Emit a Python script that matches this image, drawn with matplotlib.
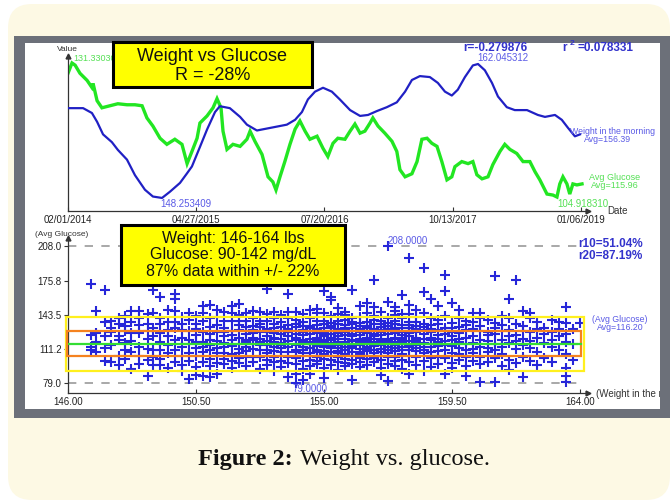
import numpy as np
import matplotlib
matplotlib.use("Agg")
import matplotlib.pyplot as plt
import matplotlib.dates as mdates
from matplotlib.patches import FancyBboxPatch, Rectangle

plt.rcParams['font.family'] = ['Liberation Sans', 'DejaVu Sans']

# ---------------- time series ----------------
start_date = np.datetime64('2014-02-01')
date_ticks = ['2014-02-01', '2015-04-27', '2016-07-20', '2017-10-13', '2019-01-06']

weight_days = [0, 53, 84, 102, 123, 154, 175, 207,
               235, 270, 298, 330, 358, 393, 418, 435,
               463, 488, 516, 533, 568, 604, 628, 663,
               698, 733, 768, 797, 821, 842, 867, 895,
               926, 954, 990, 1025, 1053, 1084, 1119, 1154,
               1183, 1207, 1235, 1270, 1298, 1323, 1347, 1368,
               1393, 1421, 1439, 1463, 1488, 1509, 1540, 1568,
               1611, 1649, 1674, 1709, 1733, 1754, 1779, 1797]
weight_lbs = [157.5, 157.5, 157.0, 156.1, 154.8, 154.0, 153.2, 152.2,
              150.6, 149.1, 148.4, 148.253409, 148.9, 149.8, 150.8, 151.5,
              153.5, 155.3, 157.1, 157.7, 157.5, 156.6, 155.8, 155.2,
              155.4, 155.6, 155.8, 156.3, 157.1, 158.4, 159.2, 159.6,
              159.2, 158.4, 157.3, 156.7, 156.8, 157.2, 157.6, 158.1,
              159.2, 160.4, 160.8, 160.7, 160.1, 159.2, 158.8, 159.4,
              160.7, 161.9, 162.045312, 161.4, 160.1, 158.7, 157.6, 157.3,
              157.3, 156.8, 156.6, 156.8, 156.3, 155.5, 154.6, 154.8]

glucose_days = [0, 14, 25, 42, 67, 84, 88, 102,
                119, 147, 175, 207, 235, 260, 277, 298,
                323, 347, 375, 400, 418, 435, 453, 463,
                488, 509, 523, 537, 544, 558, 579, 604,
                628, 639, 656, 681, 702, 719, 730, 744,
                761, 779, 797, 814, 832, 849, 874, 895,
                912, 930, 947, 972, 990, 1007, 1025, 1042,
                1060, 1070, 1088, 1112, 1137, 1154, 1165, 1183,
                1207, 1225, 1242, 1260, 1277, 1295, 1312, 1330,
                1347, 1358, 1382, 1404, 1421, 1435, 1453, 1474,
                1491, 1516, 1533, 1551, 1575, 1597, 1621, 1639,
                1656, 1681, 1702, 1716, 1726, 1737, 1751, 1761,
                1772, 1786, 1804]
glucose_avg = [129.3, 131.3303, 130.9, 129.3, 127.9, 126.5, 127.3, 123.9,
               122.5, 122.9, 123.3, 123.1, 123.1, 122.9, 120.5, 118.9,
               116.5, 115.3, 116.3, 115.3, 111.5, 113.9, 116.5, 119.5,
               120.9, 122.5, 124.3, 122.5, 117.9, 114.3, 115.3, 114.9,
               116.3, 117.9, 115.9, 113.3, 108.9, 107.9, 106.3, 108.9,
               111.9, 115.3, 118.3, 119.9, 117.9, 116.3, 116.9, 114.5,
               112.9, 115.5, 116.5, 116.3, 117.9, 119.3, 117.5, 117.9,
               119.5, 120.5, 118.9, 117.5, 115.9, 113.9, 110.3, 108.9,
               109.5, 111.9, 116.3, 116.5, 115.5, 114.9, 111.9, 108.3,
               108.9, 110.9, 111.9, 111.5, 111.9, 109.3, 108.5, 108.9,
               111.3, 113.9, 115.3, 114.3, 113.5, 111.9, 111.9, 109.9,
               108.3, 105.5, 105.3, 104.918310, 107.5, 108.9, 107.5, 105.5,
               107.5, 107.3, 107.5]

weight_mean = 156.39
glucose_mean = 115.96
r_value = -0.279876
r_squared = 0.078331

# ---------------- scatter: weight vs glucose ----------------
col_weights = [146.8, 147.0, 147.3, 147.5, 147.8, 148.0, 148.2, 148.5, 148.8,
               149.0, 149.25, 149.5, 149.75, 150.0, 150.25, 150.5, 150.75,
               151.0, 151.25, 151.5, 151.75, 152.0, 152.25, 152.5, 152.75,
               153.0, 153.25, 153.5, 153.75, 154.0, 154.25, 154.5, 154.75,
               155.0, 155.25, 155.5, 155.75, 156.0, 156.25, 156.5, 156.75,
               157.0, 157.25, 157.5, 157.75, 158.0, 158.25, 158.5, 158.75,
               159.0, 159.25, 159.5, 159.75, 160.0, 160.25, 160.5, 160.75,
               161.0, 161.25, 161.5, 161.75, 162.0, 162.25, 162.5, 162.75,
               163.0, 163.25, 163.5, 163.75, 164.0]
col_glucose = [
    [173, 113, 110, 124],
    [147, 126, 108, 118],
    [167, 123, 137, 100, 112],
    [138, 127, 99, 115, 131],
    [123, 135, 96, 105, 120, 140],
    [128, 110, 117, 102, 133, 142],
    [147, 119, 92, 108, 126, 137],
    [147, 126, 105, 134, 113, 97, 140],
    [135, 86, 101, 121, 144, 111, 128],
    [167, 123, 145, 110, 96, 131, 104],
    [160, 135, 96, 110, 118, 140, 126, 102],
    [148, 107, 123, 115, 137, 93, 129],
    [163, 158, 137, 110, 147, 120, 99, 131],
    [129, 96, 113, 141, 105, 122, 135, 90],
    [120, 107, 83, 139, 128, 100, 116, 145],
    [135, 105, 94, 87, 124, 112, 142, 118, 130],
    [152, 138, 86, 99, 118, 127, 108, 145, 113],
    [153, 120, 110, 85, 132, 102, 125, 140, 95, 115],
    [148, 134, 127, 107, 98, 119, 141, 112, 88],
    [146, 127, 107, 138, 97, 117, 123, 131, 102, 113],
    [138, 152, 120, 106, 93, 128, 114, 145, 100, 124],
    [154, 107, 129, 116, 98, 138, 111, 122, 134, 143, 103],
    [138, 95, 120, 104, 128, 113, 145, 125, 132, 109, 118],
    [120, 104, 147, 133, 111, 99, 126, 140, 116, 122, 129],
    [146, 132, 110, 92, 121, 127, 115, 104, 138, 118, 135],
    [168, 138, 110, 123, 101, 130, 144, 115, 107, 127, 119, 96],
    [122, 90, 104, 131, 140, 113, 118, 126, 109, 135, 99, 146, 121],
    [132, 94, 112, 125, 105, 137, 117, 143, 100, 128, 121, 108, 115],
    [163, 85, 119, 146, 108, 127, 134, 113, 98, 140, 123, 104, 130, 116],
    [79, 146, 120, 88, 132, 110, 125, 103, 139, 115, 128, 97, 122, 108, 135],
    [137, 82, 107, 118, 129, 113, 144, 100, 124, 110, 133, 92, 120, 116, 127],
    [148, 88, 125, 107, 116, 133, 101, 140, 121, 112, 128, 95, 118, 131, 105],
    [149, 97, 126, 110, 138, 118, 104, 130, 114, 122, 145, 100, 134, 108, 120, 127],
    [166, 84, 135, 115, 102, 125, 145, 109, 120, 131, 93, 113, 127, 106, 138, 118, 123],
    [160, 157, 120, 105, 131, 142, 112, 96, 125, 117, 136, 108, 128, 101, 122, 114, 133],
    [150, 128, 91, 118, 135, 109, 123, 144, 104, 115, 130, 99, 121, 112, 138, 126, 107],
    [146, 124, 98, 113, 131, 106, 139, 118, 127, 102, 121, 134, 110, 116, 143, 129, 95],
    [167, 82, 140, 119, 105, 128, 112, 135, 97, 123, 116, 131, 108, 125, 101, 137, 120, 114],
    [152, 133, 108, 121, 94, 127, 115, 141, 103, 118, 130, 111, 124, 99, 136, 120, 106],
    [155, 118, 137, 102, 126, 113, 145, 109, 122, 131, 96, 116, 128, 105, 133, 120, 111],
    [151, 176, 130, 107, 121, 142, 114, 99, 125, 135, 110, 118, 128, 103, 139, 123, 116],
    [87, 146, 124, 111, 132, 101, 119, 138, 108, 127, 115, 93, 129, 121, 135, 105, 117],
    [208, 156, 81, 128, 113, 140, 104, 121, 133, 117, 97, 125, 110, 136, 119, 130, 107],
    [151, 147, 115, 131, 100, 122, 143, 109, 126, 118, 135, 95, 112, 129, 104, 121, 138],
    [162, 144, 120, 106, 134, 113, 127, 92, 118, 140, 110, 124, 101, 131, 116, 122],
    [197, 153, 126, 110, 137, 99, 119, 131, 115, 144, 105, 123, 88, 128, 113, 134],
    [148, 118, 104, 133, 122, 141, 109, 127, 96, 115, 130, 120, 112, 137],
    [188, 165, 129, 113, 100, 135, 121, 145, 107, 125, 117, 90, 132, 110],
    [158, 140, 116, 103, 127, 120, 134, 108, 94, 122, 113, 130],
    [152, 124, 109, 139, 118, 97, 129, 114, 135, 104, 121],
    [181, 166, 131, 115, 103, 125, 142, 110, 119, 88, 128],
    [155, 120, 107, 136, 127, 98, 114, 131, 93, 123],
    [148, 126, 112, 140, 101, 118, 132, 106, 121],
    [138, 116, 104, 129, 95, 122, 110, 134, 86],
    [145, 130, 111, 123, 100, 117, 137, 107],
    [145, 128, 113, 80, 120, 104, 133, 97, 140],
    [127, 139, 108, 119, 99, 124, 112],
    [180, 125, 136, 103, 116, 80, 131, 110],
    [142, 120, 106, 128, 95, 113, 134],
    [158, 140, 117, 101, 129, 91, 123],
    [176, 135, 111, 124, 98, 119],
    [147, 133, 104, 121, 85, 115, 128],
    [145, 140, 112, 127, 100, 119],
    [130, 108, 122, 96, 137],
    [125, 117, 103, 131],
    [139, 113, 127, 99, 120],
    [137, 110, 123, 130],
    [151, 136, 118, 93, 86, 80, 106, 125],
    [116, 130, 101],
    [136],
]
scatter_mean = 116.20
band_inner = 0.10
band_outer = 0.22
r10_pct = 51.04
r20_pct = 87.19
glucose_ticks = [79.0, 111.2, 143.5, 175.8, 208.0]
weight_ticks = [146.00, 150.50, 155.00, 159.50, 164.00]
glucose_max, glucose_min = 208.0, 79.0

# ---------------- colours ----------------
BLUE = '#2020c4'
GREEN = '#22e622'
LABEL_BLUE = '#5a5ae6'
LABEL_GREEN = '#55e055'
BOLD_BLUE = '#3333cc'
AXIS = '#333333'

W, H = 672, 503
fig = plt.figure(figsize=(W / 100, H / 100), dpi=100)
fig.patch.set_facecolor('white')


def frame(px0, py0, px1, py1):
    return [px0 / W, 1 - py1 / H, (px1 - px0) / W, (py1 - py0) / H]


# page background, grey frame, white panel and caption
bg = fig.add_axes([0, 0, 1, 1], zorder=0)
bg.set_xlim(0, W)
bg.set_ylim(H, 0)
bg.axis('off')
bg.add_patch(FancyBboxPatch((8, 4), 662, 496, boxstyle="round,pad=0,rounding_size=24",
                            fc='#fdf9e4', ec='none'))
bg.add_patch(Rectangle((14, 36), 670 - 14, 418 - 36, fc='#6c7079', ec='none'))
panel = Rectangle((25, 43), 660 - 25, 409 - 43, fc='white', ec='none')
bg.add_patch(panel)
bg.text(293, 465, 'Figure 2:', family='Liberation Serif', fontweight='bold',
        fontsize=17.5, ha='right', va='baseline', color='#111111')
bg.text(300, 465, 'Weight vs. glucose.', family='Liberation Serif',
        fontsize=17.5, ha='left', va='baseline', color='#111111')


def style_axes(ax):
    for side in ('top', 'right'):
        ax.spines[side].set_visible(False)
    for side in ('left', 'bottom'):
        ax.spines[side].set_color(AXIS)
        ax.spines[side].set_linewidth(0.9)
    ax.patch.set_visible(False)
    ax.plot([1], [0], marker='>', ms=3.5, color=AXIS, transform=ax.transAxes, clip_on=False)
    ax.plot([0], [1], marker='^', ms=3.5, color=AXIS, transform=ax.transAxes, clip_on=False)


# ---------------- top: time series ----------------
ax1 = fig.add_axes(frame(68, 56, 588, 211), zorder=1)
style_axes(ax1)
g_dates = start_date + np.array(glucose_days).astype('timedelta64[D]')
w_dates = start_date + np.array(weight_days).astype('timedelta64[D]')
ax1.plot(g_dates, glucose_avg, color=GREEN, lw=2.4, solid_joinstyle='miter')
ax1.set_xlim(start_date, start_date + np.timedelta64(1825, 'D'))
ax1.set_ylim(102.16, 132.71)
ax1.set_yticks([])
ax1.set_xticks([np.datetime64(d) for d in date_ticks])
ax1.xaxis.set_major_formatter(mdates.DateFormatter('%m/%d/%Y'))
ax1.tick_params(axis='x', direction='in', length=3, width=0.8, color=AXIS,
                labelsize=7, labelcolor='#222222', pad=3)

ax1b = ax1.twinx()
ax1b.set_zorder(1.1)
ax1b.patch.set_visible(False)
for s in ax1b.spines.values():
    s.set_visible(False)
ax1b.set_yticks([])
ax1b.plot(w_dates, weight_lbs, color=BLUE, lw=1.6)
ax1b.set_ylim(146.91, 162.87)

# extreme value labels
gi_max = int(np.argmax(glucose_avg))
gi_min = int(np.argmin(glucose_avg))
wi_max = int(np.argmax(weight_lbs))
wi_min = int(np.argmin(weight_lbs))
ax1.annotate(f'{glucose_avg[gi_max]:.6f}', (g_dates[gi_max], glucose_avg[gi_max]),
             xytext=(1, 0), textcoords='offset points', ha='left', va='bottom',
             fontsize=6.5, color=LABEL_GREEN)
ax1.annotate(f'{glucose_avg[gi_min]:.6f}', (g_dates[gi_min], glucose_avg[gi_min]),
             xytext=(0, -1.5), textcoords='offset points', ha='left', va='top',
             fontsize=7, color=LABEL_GREEN)
ax1b.annotate(f'{weight_lbs[wi_max]:.6f}', (w_dates[wi_max], weight_lbs[wi_max]),
              xytext=(-0.5, 0.5), textcoords='offset points', ha='left', va='bottom',
              fontsize=7, color=LABEL_BLUE)
ax1b.annotate(f'{weight_lbs[wi_min]:.6f}', (w_dates[wi_min], weight_lbs[wi_min]),
              xytext=(-1.5, -0.5), textcoords='offset points', ha='left', va='top',
              fontsize=7, color=LABEL_BLUE)

# ---------------- bottom: scatter ----------------
ax2 = fig.add_axes(frame(68, 238, 588, 393), zorder=1)
style_axes(ax2)
xs = np.concatenate([[w] * len(g) for w, g in zip(col_weights, col_glucose)])
ys = np.concatenate([np.asarray(g, dtype=float) for g in col_glucose])
ax2.plot(xs, ys, linestyle='none', marker='+', ms=7, mew=1.5, color='#2626d9',
         clip_on=False, zorder=2)
ax2.set_xlim(146.0, 164.28)
ax2.set_ylim(69.6, 216.0)
x0, x1 = weight_ticks[0], weight_ticks[-1]
for level in (glucose_max, glucose_min):
    ax2.plot([x0, x1], [level, level], ls=(0, (5, 5)), color='#9a9a9a', lw=1.2, zorder=1)
lo, hi = scatter_mean * (1 - band_outer), scatter_mean * (1 + band_outer)
ax2.add_patch(Rectangle((x0 - 0.08, lo), (x1 - x0) + 0.22, hi - lo, fill=False,
                        ec='#fff01e', lw=1.6, zorder=3, clip_on=False))
lo, hi = scatter_mean * (1 - band_inner), scatter_mean * (1 + band_inner)
ax2.add_patch(Rectangle((x0 - 0.03, lo), (x1 - x0) + 0.07, hi - lo, fill=False,
                        ec='#f5821f', lw=1.6, zorder=3, clip_on=False))
ax2.plot([x0 - 0.03, x1 + 0.04], [scatter_mean, scatter_mean], color='#33dd33', lw=1.6, zorder=3)
ax2.set_xticks(weight_ticks)
ax2.set_xticklabels([f'{v:.2f}' for v in weight_ticks])
ax2.set_yticks(glucose_ticks)
ax2.set_yticklabels([f'{v:.1f}' for v in glucose_ticks])
ax2.tick_params(axis='x', direction='in', length=3, width=0.8, color=AXIS,
                labelsize=7, labelcolor='#222222', pad=3)
ax2.tick_params(axis='y', direction='out', length=3, width=0.8, color=AXIS,
                labelsize=7, labelcolor='#222222', pad=1.5)
top_w = [w for w, g in zip(col_weights, col_glucose) if glucose_max in g][0]
bot_w = [w for w, g in zip(col_weights, col_glucose) if glucose_min in g][0]
ax2.annotate(f'{glucose_max:.4f}', (top_w, glucose_max), xytext=(0, 0.5),
             textcoords='offset points', ha='left', va='bottom', fontsize=7, color=LABEL_BLUE)
ax2.annotate(f'{glucose_min:.4f}', (bot_w, glucose_min), xytext=(-2, -1),
             textcoords='offset points', ha='left', va='top', fontsize=7, color=LABEL_BLUE)

# ---------------- overlay: titles, boxes, legends ----------------
ov = fig.add_axes([0, 0, 1, 1], zorder=5)
ov.set_xlim(0, W)
ov.set_ylim(H, 0)
ov.axis('off')


def txt(px, py, s, **kw):
    kw.setdefault('ha', 'left')
    kw.setdefault('va', 'center')
    return ov.text(px, py, s, **kw)


txt(67, 49, 'Value', fontsize=6, color=AXIS, ha='center')
txt(463, 48, f'r={r_value:.6f}', fontsize=8.5, fontweight='bold', color=BOLD_BLUE)
txt(562, 48, 'r', fontsize=8.5, fontweight='bold', color=BOLD_BLUE)
txt(570, 43, '2', fontsize=6, fontweight='bold', color=BOLD_BLUE)
txt(578, 48, f'={r_squared:.6f}', fontsize=8.5, fontweight='bold', color=BOLD_BLUE)
txt(612, 131, 'Weight in the morning', fontsize=6.3, color=LABEL_BLUE, ha='center')
txt(608, 139, f'Avg={weight_mean:.2f}', fontsize=6.3, color=LABEL_BLUE, ha='center')
txt(615, 178, 'Avg Glucose', fontsize=6.5, color=LABEL_GREEN, ha='center')
txt(615, 186, f'Avg={glucose_mean:.2f}', fontsize=6.5, color=LABEL_GREEN, ha='center')
txt(607, 211, 'Date', fontsize=7, color=AXIS)

txt(35, 234, '(Avg Glucose)', fontsize=6, color=AXIS)
txt(578, 244, f'r10={r10_pct:.2f}%', fontsize=8.5, fontweight='bold', color=BOLD_BLUE)
txt(578, 256, f'r20={r20_pct:.2f}%', fontsize=8.5, fontweight='bold', color=BOLD_BLUE)
txt(620, 319, '(Avg Glucose)', fontsize=6.3, color=LABEL_BLUE, ha='center')
txt(620, 327, f'Avg={scatter_mean:.2f}', fontsize=6.3, color=LABEL_BLUE, ha='center')
wl = txt(596, 394, '(Weight in the morning)', fontsize=7, color=AXIS)
wl.set_clip_path(panel)
wl.set_clip_on(True)

ov.add_patch(Rectangle((113, 42), 199, 45, fc='#ffff00', ec='black', lw=2.2))
txt(212, 56, 'Weight vs Glucose', fontsize=13, color='#111111', ha='center')
txt(213, 75, 'R = -28%', fontsize=13, color='#111111', ha='center')

ov.add_patch(Rectangle((121, 225), 224, 60, fc='#ffff00', ec='black', lw=2.2))
txt(233, 238, 'Weight: 146-164 lbs', fontsize=11.5, color='#111111', ha='center')
txt(233, 255, 'Glucose: 90-142 mg/dL', fontsize=11.5, color='#111111', ha='center')
txt(233, 272, '87% data within +/- 22%', fontsize=11.5, color='#111111', ha='center')

fig.savefig('out.png', dpi=100, facecolor=fig.get_facecolor())
